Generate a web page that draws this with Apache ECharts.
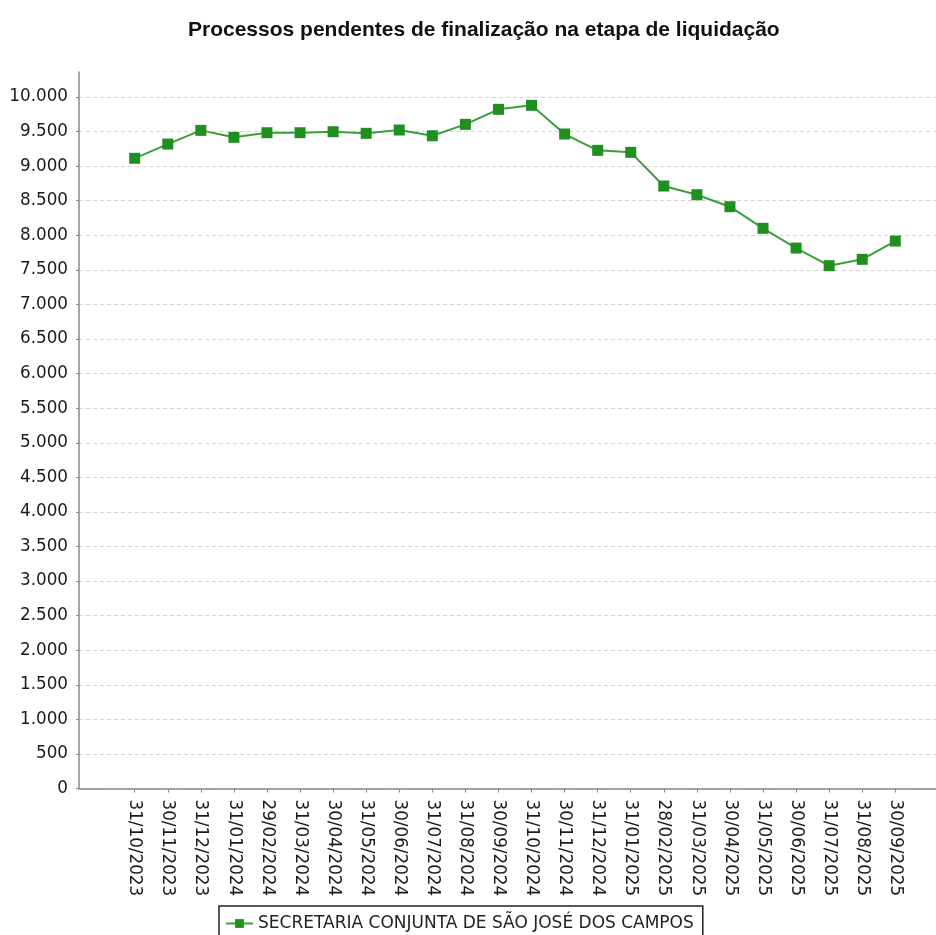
<!DOCTYPE html>
<html>
<head>
<meta charset="utf-8">
<script src="https://cdn.jsdelivr.net/npm/echarts@6/dist/echarts.min.js"></script>
<style>
  html, body { margin: 0; padding: 0; background: #fff; }
  #container { width: 936px; height: 935px; }
</style>
</head>
<body>
<div id="container"></div>
<script>
// dados do gráfico
var categorias = ['31/10/2023', '30/11/2023', '31/12/2023', '31/01/2024', '29/02/2024', '31/03/2024',
    '30/04/2024', '31/05/2024', '30/06/2024', '31/07/2024', '31/08/2024', '30/09/2024',
    '31/10/2024', '30/11/2024', '31/12/2024', '31/01/2025', '28/02/2025', '31/03/2025',
    '30/04/2025', '31/05/2025', '30/06/2025', '31/07/2025', '31/08/2025', '30/09/2025'];
var pendentes = [9114, 9320, 9518, 9417, 9484, 9484, 9498, 9475, 9523, 9440, 9605, 9822,
    9880, 9465, 9229, 9200, 8713, 8587, 8414, 8101, 7816, 7561, 7653, 7917];
var nomeSerie = 'SECRETARIA CONJUNTA DE SÃO JOSÉ DOS CAMPOS';
var eixoMax = 10362;
var eixoTicks = 500;

var myChart = echarts.init(document.getElementById('container'));

function formatarMilhar(v) {
    return String(v).replace(/\B(?=(\d{3})+(?!\d))/g, '.');
}

var fonte = 'DejaVu Sans';
var verde = '#1f8f1f';

var option = {
    animation: false,
    backgroundColor: '#fff',
    title: {
        text: 'Processos pendentes de finalização na etapa de liquidação',
        left: 183,
        top: 15,
        textStyle: { fontFamily: 'Liberation Sans', fontWeight: 'bold', fontSize: 21, color: '#111' }
    },
    legend: {
        data: [nomeSerie],
        left: 219,
        top: 906,
        padding: [9, 9, 9, 6],
        borderColor: '#222',
        borderWidth: 1.5,
        itemWidth: 27,
        itemHeight: 11,
        itemGap: 5,
        textStyle: { fontFamily: fonte, fontSize: 17, color: '#222' }
    },
    grid: [
        // linhas de grade e rótulos do eixo Y
        { left: 79, right: 0, top: 97, bottom: 146.5 },
        // linhas dos eixos
        { left: 79, right: 0, top: 72, bottom: 146.5 },
        // área dos dados
        { left: 134.7, right: 40.7, top: 72, bottom: 146.5 }
    ],
    xAxis: [
        { gridIndex: 0, type: 'value', show: false },
        {
            gridIndex: 1, type: 'value', min: 0, max: 1,
            axisLine: { show: true, lineStyle: { color: '#888', width: 1.5 } },
            axisTick: { show: false }, axisLabel: { show: false }, splitLine: { show: false }
        },
        {
            gridIndex: 2, type: 'category', boundaryGap: false, data: categorias,
            axisLine: { show: false },
            axisTick: { show: true, length: 4, lineStyle: { color: '#888' } },
            axisLabel: {
                rotate: -90, margin: 11, interval: 0,
                fontFamily: fonte, fontSize: 16.8, color: '#1a1a1a'
            },
            splitLine: { show: false }
        }
    ],
    yAxis: [
        {
            gridIndex: 0, type: 'value', min: 0, max: 10000, interval: eixoTicks,
            axisLine: { show: false },
            axisTick: { show: true, length: 3, lineStyle: { color: '#888' } },
            axisLabel: {
                margin: 11, fontFamily: fonte, fontSize: 16.8, color: '#1a1a1a',
                formatter: formatarMilhar
            },
            splitLine: { show: true, lineStyle: { color: '#d4d4d4', type: [4, 3], width: 1 } }
        },
        {
            gridIndex: 1, type: 'value', min: 0, max: 1,
            axisLine: { show: true, lineStyle: { color: '#888', width: 1.5 } },
            axisTick: { show: false }, axisLabel: { show: false }, splitLine: { show: false }
        },
        { gridIndex: 2, type: 'value', min: 0, max: eixoMax, show: false }
    ],
    series: [
        {
            name: nomeSerie,
            type: 'line',
            xAxisIndex: 2,
            yAxisIndex: 2,
            data: pendentes,
            symbol: 'rect',
            symbolSize: 11,
            itemStyle: { color: verde },
            lineStyle: { color: '#3a9f3a', width: 2 }
        }
    ]
};

myChart.setOption(option, true);

window.onresize = function () {
    myChart.resize();
};
</script>
</body>
</html>
